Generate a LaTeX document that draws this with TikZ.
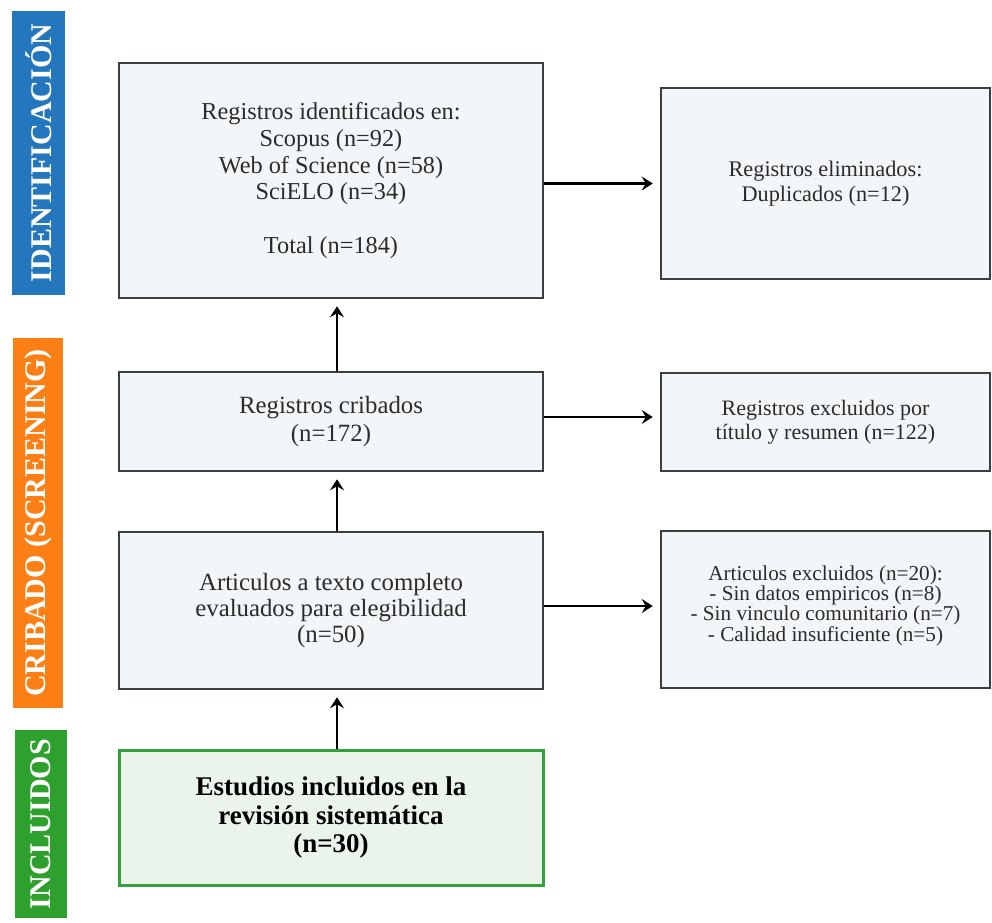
\documentclass[tikz,border=0pt]{standalone}
\usepackage{fontspec}
\setmainfont{Liberation Serif}
\usetikzlibrary{arrows.meta}
\definecolor{bandblue}{HTML}{2577BD}
\definecolor{bandorange}{HTML}{FB7F14}
\definecolor{bandgreen}{HTML}{2EA02E}
\definecolor{boxfill}{HTML}{F3F6F9}
\definecolor{boxedge}{HTML}{3C3F42}
\definecolor{greenfill}{HTML}{EAF4EB}
\definecolor{greenedge}{HTML}{33A23A}
\definecolor{txt}{HTML}{2B2B2B}
\tikzset{
  flowbox/.style={draw=boxedge, fill=boxfill, line width=2.5pt, rectangle, inner sep=0pt, align=center, text=txt},
  incbox/.style={draw=greenedge, fill=greenfill, line width=3pt, rectangle, inner sep=0pt, align=center, text=black},
  band/.style={rotate=90, inner sep=0pt, text=white, font=\fontsize{30}{32}\selectfont\bfseries},
  arr/.style={line width=2.8pt, -{Stealth[length=11pt,width=14pt,inset=4pt]}, shorten >=7pt}
}
\begin{document}
\begin{tikzpicture}[x=1pt,y=-1pt]
\useasboundingbox (0,0) rectangle (992,922);
\fill[white] (0,0) rectangle (992,922);
% phase bands
\node[band, fill=bandblue, minimum width=284pt, minimum height=53pt] (b1) at (38.5,153) {IDENTIFICACIÓN};
\node[band, fill=bandorange, minimum width=370pt, minimum height=50pt] (b2) at (38,523) {CRIBADO (SCREENING)};
\node[band, fill=bandgreen, minimum width=188pt, minimum height=52pt] (b3) at (41,824) {INCLUIDOS};
% boxes
\node[flowbox, minimum width=424pt, minimum height=235pt, font=\fontsize{24.3}{26.7}\selectfont] (n1) at (331,180.5)
  {\rule{0pt}{14pt}Registros identificados en:\\Scopus (n=92)\\Web of Science (n=58)\\SciELO (n=34)\\[26.7pt]Total (n=184)};
\node[flowbox, minimum width=329pt, minimum height=191pt, font=\fontsize{22.3}{25}\selectfont] (n2) at (825.5,183.5)
  {Registros eliminados:\\Duplicados (n=12)};
\node[flowbox, minimum width=424pt, minimum height=99pt, font=\fontsize{24.8}{28}\selectfont] (n3) at (331,421.5)
  {Registros cribados\\(n=172)};
\node[flowbox, minimum width=329pt, minimum height=98pt, font=\fontsize{22}{24}\selectfont] (n4) at (825.5,422)
  {Registros excluidos por\\título y resumen (n=122)};
\node[flowbox, minimum width=424pt, minimum height=157pt, font=\fontsize{24.8}{25.8}\selectfont] (n5) at (331,610.5)
  {Articulos a texto completo\\evaluados para elegibilidad\\(n=50)};
\node[flowbox, minimum width=329pt, minimum height=157pt, font=\fontsize{21.2}{18.5}\selectfont] (n6) at (825.5,609.5)
  {Articulos excluidos (n=20):\\- Sin datos empiricos (n=8)\\- Sin vinculo comunitario (n=7)\\- Calidad insuficiente (n=5)\\[-6pt]\mbox{}};
\node[incbox, minimum width=424pt, minimum height=135pt, font=\fontsize{27}{28.5}\selectfont\bfseries] (n7) at (331,817.5)
  {Estudios incluidos en la\\revisión sistemática\\(n=30)};
% connectors
\draw[arr] ([xshift=6pt]n7.north) -- ([xshift=6pt]n5.south);
\draw[arr] ([xshift=6pt]n5.north) -- ([xshift=6pt]n3.south);
\draw[arr] ([xshift=6pt]n3.north) -- ([xshift=6pt]n1.south);
\draw[arr] (n1.east |- n2.west) -- (n2.west);
\draw[arr] ([yshift=4.5pt]n3.east) -- ([yshift=4.5pt]n3.east -| n4.west);
\draw[arr] ([yshift=4.5pt]n5.east) -- ([yshift=4.5pt]n5.east -| n6.west);
\end{tikzpicture}
\end{document}
